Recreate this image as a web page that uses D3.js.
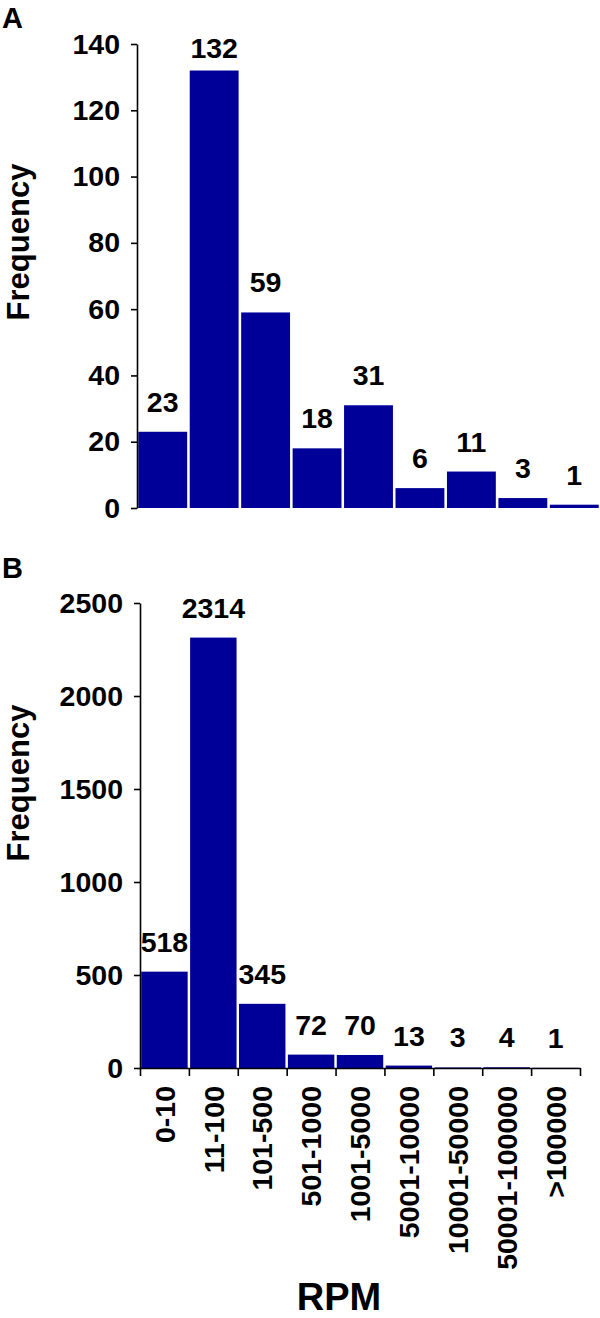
<!DOCTYPE html>
<html>
<head>
<meta charset="utf-8">
<script src="https://cdn.jsdelivr.net/npm/d3@7.9.0/dist/d3.min.js"></script>
<style>
  body { margin: 0; background: #fff; }
  svg text { font-family: "Liberation Sans", Arial, Helvetica, sans-serif; font-weight: bold; fill: #000; }
</style>
</head>
<body>
<svg id="chart" width="600" height="1318"></svg>
<script>
const categories = ["0-10", "11-100", "101-500", "501-1000", "1001-5000",
                    "5001-10000", "10001-50000", "50001-100000", ">100000"];
const countsA = [23, 132, 59, 18, 31, 6, 11, 3, 1];
const countsB = [518, 2314, 345, 72, 70, 13, 3, 4, 1];
const ticksA = [0, 20, 40, 60, 80, 100, 120, 140];
const ticksB = [0, 500, 1000, 1500, 2000, 2500];

const barColor = "#000099";
const svg = d3.select("#chart");

function drawPanel(opts) {
    const g = svg.append("g");

    let x = d3.scaleBand()
        .domain(categories)
        .range(opts.xRange)
        .paddingInner(0.05)
        .paddingOuter(0.025);

    let y = d3.scaleLinear()
        .domain([0, opts.ticks[opts.ticks.length - 1]])
        .range(opts.yRange);

    // bars
    g.selectAll("rect")
        .data(opts.values)
        .join("rect")
        .attr("x", (d, i) => x(categories[i]))
        .attr("y", d => y(d))
        .attr("width", x.bandwidth())
        .attr("height", d => y(0) - y(d))
        .attr("fill", barColor);

    // value labels
    g.selectAll("text.val")
        .data(opts.values)
        .join("text")
        .attr("class", "val")
        .attr("x", (d, i) => x(categories[i]) + x.bandwidth() / 2)
        .attr("y", d => Math.max(y(d) - 20, y.range()[1] + 14))
        .attr("text-anchor", "middle")
        .style("font-size", "28.5px")
        .text(d => d);

    // y axis
    let yAxis = g.append("g")
        .attr("transform", `translate(${opts.xRange[0]},0)`)
        .call(d3.axisLeft(y).tickValues(opts.ticks).tickFormat(d3.format("d"))
            .tickSize(6).tickSizeOuter(0).tickPadding(11));
    yAxis.selectAll("path, line").attr("stroke", "#000").attr("stroke-width", 1.6);
    yAxis.selectAll("text").style("font-size", "28.5px").attr("fill", "#000");

    // y title
    g.append("text")
        .attr("transform", `translate(29,${opts.titleY}) rotate(-90)`)
        .attr("text-anchor", "middle")
        .style("font-size", "31px")
        .text("Frequency");

    // panel letter
    g.append("text")
        .attr("x", 2)
        .attr("y", opts.letterY)
        .style("font-size", "29px")
        .text(opts.letter);

    return { x, y, g };
}

drawPanel({
    letter: "A", letterY: 28,
    values: countsA, ticks: ticksA,
    xRange: [137, 600], yRange: [508, 44],
    titleY: 242
});

const pB = drawPanel({
    letter: "B", letterY: 578,
    values: countsB, ticks: ticksB,
    xRange: [140, 580], yRange: [1068, 603],
    titleY: 783
});

// x axis for panel B: ticks at bin edges
let edges = d3.scaleLinear().domain([0, categories.length]).range([140, 580]);
let xAxis = pB.g.append("g")
    .attr("transform", "translate(0,1068)")
    .call(d3.axisBottom(edges).tickValues(d3.range(categories.length + 1)).tickFormat("").tickSize(8).tickSizeOuter(0));
xAxis.selectAll("path, line").attr("stroke", "#000").attr("stroke-width", 1.6);

// rotated category labels
pB.g.selectAll("text.cat")
    .data(categories)
    .join("text")
    .attr("class", "cat")
    .attr("transform", d => `translate(${pB.x(d) + pB.x.bandwidth() / 2},1086) rotate(-90)`)
    .attr("text-anchor", "end")
    .attr("dy", "0.36em")
    .style("font-size", "28.5px")
    .text(d => d);

// x title
svg.append("text")
    .attr("x", 339)
    .attr("y", 1310)
    .attr("text-anchor", "middle")
    .style("font-size", "38px")
    .text("RPM");
</script>
</body>
</html>
